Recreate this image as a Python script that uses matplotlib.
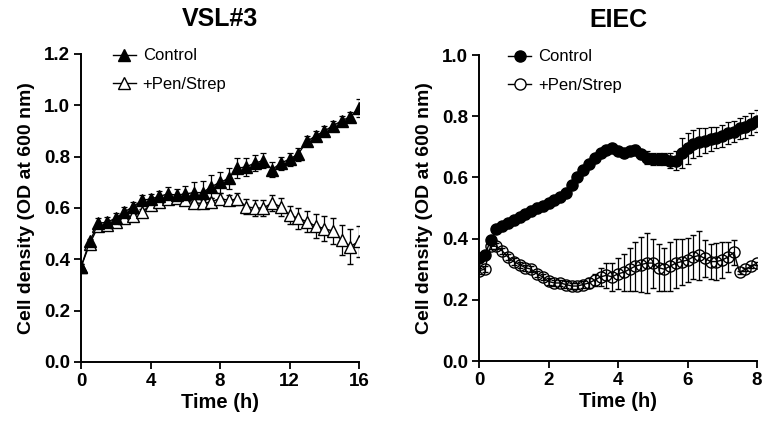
import numpy as np
import matplotlib
matplotlib.use('Agg')
import matplotlib.pyplot as plt
from matplotlib.lines import Line2D

plt.rcParams['font.family'] = ['Liberation Sans', 'DejaVu Sans']

# VSL#3 panel, sampled every 30 min
vsl_time = np.arange(0, 16.5, 0.5)
vsl_ctrl = [0.37, 0.47, 0.54, 0.545, 0.56, 0.585, 0.605, 0.63, 0.635, 0.645, 0.655,
            0.65, 0.655, 0.66, 0.66, 0.683, 0.70, 0.715, 0.755, 0.76, 0.775, 0.785,
            0.75, 0.775, 0.79, 0.81, 0.86, 0.88, 0.90, 0.92, 0.94, 0.955, 0.99]
vsl_ctrl_err = [0.01, 0.01, 0.02, 0.02, 0.02, 0.02, 0.02, 0.02, 0.02, 0.02, 0.025,
                0.025, 0.03, 0.04, 0.045, 0.045, 0.04, 0.04, 0.04, 0.035, 0.03, 0.03,
                0.03, 0.025, 0.025, 0.025, 0.02, 0.02, 0.02, 0.02, 0.02, 0.02, 0.035]
vsl_pen = [0.37, 0.46, 0.53, 0.535, 0.545, 0.56, 0.57, 0.585, 0.61, 0.625, 0.635,
           0.64, 0.63, 0.62, 0.618, 0.624, 0.637, 0.63, 0.635, 0.605, 0.60, 0.60,
           0.62, 0.605, 0.573, 0.56, 0.547, 0.53, 0.52, 0.51, 0.475, 0.45, 0.47]
vsl_pen_err = [0.01, 0.01, 0.01, 0.01, 0.01, 0.01, 0.01, 0.01, 0.01, 0.01, 0.01,
               0.01, 0.01, 0.015, 0.015, 0.015, 0.02, 0.02, 0.025, 0.03, 0.03, 0.03,
               0.03, 0.035, 0.035, 0.04, 0.04, 0.045, 0.05, 0.05, 0.06, 0.07, 0.06]

# EIEC panel, sampled every 10 min
eiec_time = np.arange(0, 481, 10) / 60.0
eiec_ctrl = [0.335, 0.345, 0.395, 0.43, 0.44, 0.45, 0.46, 0.47, 0.48, 0.49,
             0.50, 0.505, 0.515, 0.525, 0.535, 0.55, 0.575, 0.60, 0.625, 0.645,
             0.665, 0.68, 0.69, 0.695, 0.685, 0.68, 0.685, 0.69, 0.675, 0.665,
             0.66, 0.66, 0.66, 0.655, 0.655, 0.68, 0.695, 0.71, 0.715, 0.72,
             0.725, 0.73, 0.735, 0.745, 0.75, 0.76, 0.765, 0.775, 0.785]
eiec_ctrl_err = [0.01, 0.01, 0.01, 0.01, 0.015, 0.015, 0.015, 0.015, 0.015, 0.015,
                 0.015, 0.015, 0.015, 0.015, 0.015, 0.015, 0.01, 0.01, 0.01, 0.01,
                 0.01, 0.01, 0.01, 0.01, 0.01, 0.01, 0.01, 0.015, 0.015, 0.02,
                 0.02, 0.02, 0.02, 0.025, 0.03, 0.05, 0.05, 0.045, 0.045, 0.04,
                 0.04, 0.035, 0.035, 0.035, 0.035, 0.035, 0.035, 0.035, 0.035]
eiec_pen = [0.295, 0.30, 0.375, 0.375, 0.36, 0.34, 0.325, 0.315, 0.305, 0.30,
            0.285, 0.275, 0.26, 0.255, 0.255, 0.25, 0.245, 0.245, 0.25, 0.255,
            0.265, 0.275, 0.28, 0.275, 0.285, 0.29, 0.30, 0.31, 0.315, 0.32,
            0.32, 0.305, 0.30, 0.31, 0.32, 0.325, 0.33, 0.34, 0.345, 0.335,
            0.325, 0.325, 0.33, 0.34, 0.355, 0.29, 0.30, 0.31, 0.32]
eiec_pen_err = [0.01, 0.01, 0.01, 0.01, 0.01, 0.01, 0.01, 0.01, 0.01, 0.01,
                0.01, 0.01, 0.01, 0.01, 0.01, 0.01, 0.01, 0.01, 0.01, 0.015,
                0.02, 0.03, 0.04, 0.045, 0.05, 0.06, 0.07, 0.08, 0.09, 0.097,
                0.08, 0.076, 0.07, 0.08, 0.08, 0.075, 0.073, 0.073, 0.08, 0.06,
                0.057, 0.06, 0.06, 0.05, 0.04, 0.005, 0.005, 0.005, 0.005]

fig = plt.figure(figsize=(7.65, 4.24), dpi=100)
ax1 = fig.add_axes([81/765, 1-362/424, 278/765, 308/424])
ax2 = fig.add_axes([479/765, 1-361/424, 278/765, 306/424])

eb = dict(ecolor='black', elinewidth=0.9, capsize=2, capthick=0.9, color='black', lw=1)

ax1.errorbar(vsl_time, vsl_pen, yerr=vsl_pen_err, marker='^', ms=9, mfc='white',
             mec='black', mew=1, **eb)
ax1.errorbar(vsl_time, vsl_ctrl, yerr=vsl_ctrl_err, marker='^', ms=9, mfc='black',
             mec='black', **eb)

ax2.errorbar(eiec_time, eiec_pen, yerr=eiec_pen_err, marker='o', ms=8, mfc='none',
             mec='black', mew=1, **eb)
ax2.errorbar(eiec_time, eiec_ctrl, yerr=eiec_ctrl_err, marker='o', ms=8, mfc='black',
             mec='black', **eb)

panels = [(ax1, 'VSL#3', 16, 4, 1.2, '^', 0.06), (ax2, 'EIEC', 8, 2, 1.0, 'o', 0.05)]
for ax, title, xmax, xstep, ymax, mk, lx in panels:
    ax.set_xlim(0, xmax)
    ax.set_ylim(0, ymax)
    ax.set_xticks(np.arange(0, xmax + 0.01, xstep))
    ax.set_yticks(np.arange(0, ymax + 0.01, 0.2))
    ax.yaxis.set_major_formatter(matplotlib.ticker.FormatStrFormatter('%.1f'))
    for s in ['top', 'right']:
        ax.spines[s].set_visible(False)
    for s in ['left', 'bottom']:
        ax.spines[s].set_linewidth(1.4)
    ax.tick_params(direction='out', length=5, width=1.3, labelsize=13.5, pad=3)
    for lab in ax.get_xticklabels() + ax.get_yticklabels():
        lab.set_fontweight('bold')
    ax.set_xlabel('Time (h)', fontsize=14.5, fontweight='bold', labelpad=2)
    ax.set_ylabel('Cell density (OD at 600 nm)', fontsize=14, fontweight='bold', labelpad=6)
    ax.set_title(title, fontsize=18, fontweight='bold', pad=20)
    handles = [Line2D([], [], color='black', lw=1, marker=mk, ms=8, mfc='black', mec='black'),
               Line2D([], [], color='black', lw=1, marker=mk, ms=8, mfc='white', mec='black')]
    ax.legend(handles, ['Control', '+Pen/Strep'], loc='upper left',
              bbox_to_anchor=(lx, 1.067), frameon=False, fontsize=12,
              handlelength=1.4, handletextpad=0.4, labelspacing=0.8)

plt.savefig('out.png', dpi=100)
plt.close()
